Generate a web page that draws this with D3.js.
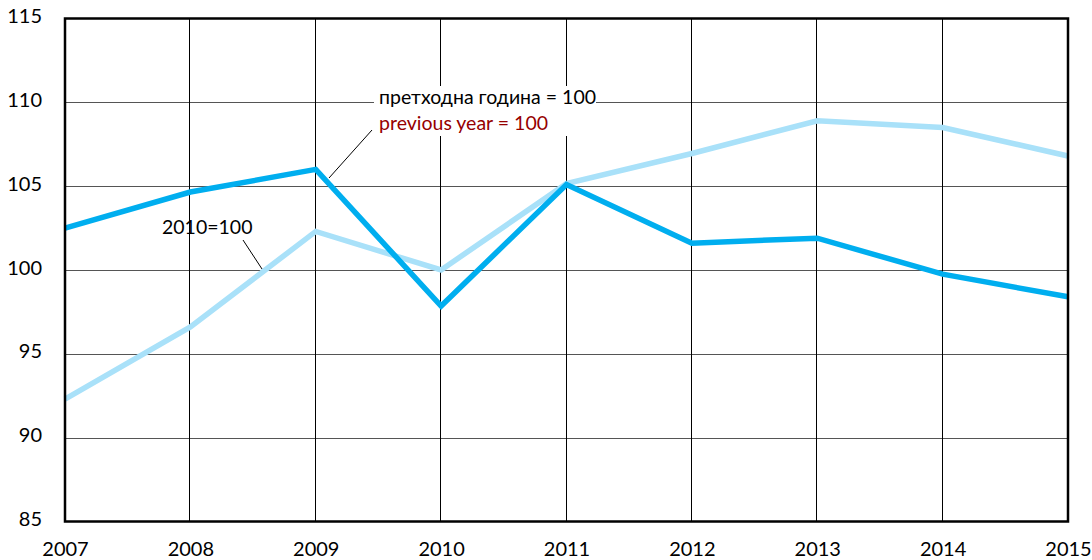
<!DOCTYPE html>
<html>
<head>
<meta charset="utf-8">
<style>
  body { margin: 0; background: #fff; }
  svg { display: block; font-family: Lato, "Open Sans", sans-serif; }
</style>
</head>
<body>
<div id="chart"></div>
<script src="https://d3js.org/d3.v7.min.js"></script>
<script>
  const years = [2007, 2008, 2009, 2010, 2011, 2012, 2013, 2014, 2015];
  const yTicks = [85, 90, 95, 100, 105, 110, 115];
  // претходна година = 100
  const prevYear = [102.5, 104.65, 106.0, 97.85, 105.1, 101.6, 101.9, 99.75, 98.4];
  // 2010=100
  const base2010 = [92.3, 96.6, 102.3, 100.0, 105.15, 106.95, 108.9, 108.5, 106.8];

  const width = 1092, height = 560;
  const margin = { top: 18.5, right: 24, bottom: 38.5, left: 65 };

  const svg = d3.select("#chart").append("svg")
    .attr("width", width)
    .attr("height", height);

  const x = d3.scaleLinear()
    .domain([2007, 2015])
    .range([margin.left, width - margin.right]);
  const y = d3.scaleLinear()
    .domain([85, 115])
    .range([height - margin.bottom, margin.top]);

  // horizontal grid
  svg.append("g")
    .selectAll("line")
    .data(yTicks.slice(1, -1))
    .enter()
    .append("line")
    .attr("x1", x(2007)).attr("x2", x(2015))
    .attr("y1", d => Math.round(y(d)) + 0.5)
    .attr("y2", d => Math.round(y(d)) + 0.5)
    .attr("stroke", "#555")
    .attr("stroke-width", 1);

  // vertical grid
  svg.append("g")
    .selectAll("line")
    .data(years.slice(1, -1))
    .enter()
    .append("line")
    .attr("x1", d => Math.round(x(d)) - 0.5)
    .attr("x2", d => Math.round(x(d)) - 0.5)
    .attr("y1", y(115)).attr("y2", y(85))
    .attr("stroke", "#000")
    .attr("stroke-width", 1);

  // axes labels
  const yAxis = d3.axisLeft(y).tickValues(yTicks).tickSize(0).tickPadding(23);
  svg.append("g")
    .attr("transform", `translate(${margin.left},0)`)
    .call(yAxis)
    .call(g => g.select(".domain").remove())
    .selectAll("text")
    .attr("font-size", 20)
    .attr("font-family", "Lato, 'Open Sans', sans-serif")
    .attr("fill", "#000")
    .attr("dy", "0.2em");

  const xAxis = d3.axisBottom(x).tickValues(years).tickFormat(d3.format("d")).tickSize(0).tickPadding(20);
  svg.append("g")
    .attr("transform", `translate(0,${height - margin.bottom})`)
    .call(xAxis)
    .call(g => g.select(".domain").remove())
    .selectAll("text")
    .attr("font-size", 20)
    .attr("font-family", "Lato, 'Open Sans', sans-serif")
    .attr("fill", "#000");

  const line = d3.line()
    .x((d, i) => x(years[i]))
    .y(d => y(d));

  svg.append("path")
    .datum(base2010)
    .attr("fill", "none")
    .attr("stroke", "#a9e1f9")
    .attr("stroke-width", 5.5)
    .attr("d", line);

  svg.append("path")
    .datum(prevYear)
    .attr("fill", "none")
    .attr("stroke", "#00aeef")
    .attr("stroke-width", 5.5)
    .attr("d", line);

  // frame
  svg.append("rect")
    .attr("x", x(2007)).attr("y", y(115))
    .attr("width", x(2015) - x(2007))
    .attr("height", y(85) - y(115))
    .attr("fill", "none")
    .attr("stroke", "#000")
    .attr("stroke-width", 2.5);

  // annotations
  const ann = svg.append("g").attr("font-size", 19.5);

  ann.append("rect")
    .attr("x", 374).attr("y", 86)
    .attr("width", 222).attr("height", 50)
    .attr("fill", "#fff");
  ann.append("text")
    .attr("x", 379).attr("y", 104)
    .attr("fill", "#000")
    .text("претходна година = 100");
  ann.append("text")
    .attr("x", 379).attr("y", 130)
    .attr("fill", "#960000")
    .text("previous year = 100");
  ann.append("line")
    .attr("x1", 372).attr("y1", 130)
    .attr("x2", 329).attr("y2", 178)
    .attr("stroke", "#000").attr("stroke-width", 1);

  ann.append("text")
    .attr("x", 162).attr("y", 234)
    .attr("fill", "#000")
    .text("2010=100");
  ann.append("line")
    .attr("x1", 243).attr("y1", 240)
    .attr("x2", 262).attr("y2", 269)
    .attr("stroke", "#000").attr("stroke-width", 1);
</script>
</body>
</html>
